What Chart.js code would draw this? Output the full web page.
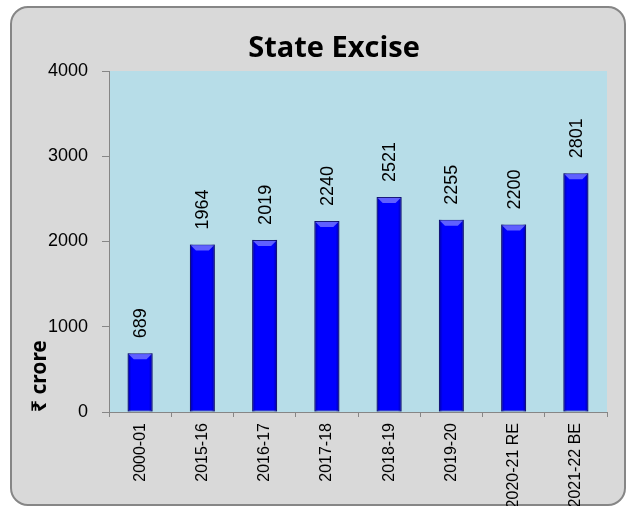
<!DOCTYPE html>
<html>
<head>
<meta charset="utf-8">
<script src="https://cdn.jsdelivr.net/npm/chart.js@4"></script>
<style>
    html, body { margin: 0; padding: 0; background: #ffffff; }
    #wrap { position: relative; width: 630px; height: 506px; }
    #card {
        position: absolute; left: 10px; top: 6px; width: 616px; height: 500px;
        background: #d9d9d9; border: 2px solid #868686; border-radius: 18px; box-sizing: border-box;
    }
    #myChart { position: absolute; left: 0; top: 0; }
</style>
</head>
<body>
<div id="wrap">
    <div id="card"></div>
    <canvas id="myChart" width="630" height="506"></canvas>
</div>
<script>
const years = ['2000-01', '2015-16', '2016-17', '2017-18', '2018-19', '2019-20', '2020-21 RE', '2021-22 BE']
const exciseValues = [689, 1964, 2019, 2240, 2521, 2255, 2200, 2801]
const yTicks = [0, 1000, 2000, 3000, 4000]

const axisColor = '#868686'

// light blue plot background
const plotBg = {
    id: 'plotBg',
    beforeDraw(chart) {
        const { ctx, chartArea: a } = chart
        ctx.save()
        ctx.fillStyle = '#b7dde8'
        ctx.fillRect(a.left, a.top, a.right - a.left, a.bottom - a.top)
        ctx.restore()
    }
}

// bevel look on bars, rotated value labels, title and unit text
const barExtras = {
    id: 'barExtras',
    afterDatasetsDraw(chart) {
        const ctx = chart.ctx
        const meta = chart.getDatasetMeta(0)
        meta.data.forEach((bar, i) => {
            const w = bar.width
            const left = bar.x - w / 2
            const right = bar.x + w / 2
            const top = bar.y
            const bottom = bar.base
            ctx.save()
            const g = ctx.createLinearGradient(left, 0, right, 0)
            g.addColorStop(0, 'rgba(0,0,90,0.55)')
            g.addColorStop(0.15, 'rgba(0,0,90,0)')
            g.addColorStop(0.85, 'rgba(0,0,90,0)')
            g.addColorStop(1, 'rgba(0,0,90,0.55)')
            ctx.fillStyle = g
            ctx.fillRect(left, top, w, bottom - top)
            // top bevel
            ctx.fillStyle = 'rgba(120,120,255,0.8)'
            ctx.beginPath()
            ctx.moveTo(left + 1, top + 1)
            ctx.lineTo(right - 1, top + 1)
            ctx.lineTo(right - 6, top + 6)
            ctx.lineTo(left + 6, top + 6)
            ctx.closePath()
            ctx.fill()
            ctx.restore()

            ctx.save()
            ctx.translate(bar.x + 1, top - 15)
            ctx.rotate(-Math.PI / 2)
            ctx.font = '18px "Liberation Sans", Arial, sans-serif'
            ctx.fillStyle = '#000000'
            ctx.textAlign = 'left'
            ctx.textBaseline = 'middle'
            ctx.fillText(String(exciseValues[i]), 0, 0)
            ctx.restore()
        })

        ctx.save()
        ctx.font = 'bold 29px "Open Sans", sans-serif'
        ctx.fillStyle = '#000000'
        ctx.textAlign = 'center'
        ctx.textBaseline = 'alphabetic'
        ctx.fillText('State Excise', 334, 57)
        ctx.restore()

        ctx.save()
        ctx.translate(40, 412)
        ctx.rotate(-Math.PI / 2)
        ctx.font = 'bold 21px "Noto Sans", "DejaVu Sans", sans-serif'
        ctx.fillStyle = '#000000'
        ctx.textAlign = 'left'
        ctx.textBaseline = 'middle'
        ctx.fillText('₹ crore', 0, 0)
        ctx.restore()
    }
}

const ctx = document.getElementById('myChart')

const myChart = new Chart(ctx, {
    type: 'bar',
    data: {
        labels: years,
        datasets: [{
            label: 'State Excise',
            data: exciseValues,
            backgroundColor: '#0000ff',
            borderColor: '#1a1a80',
            borderWidth: 1,
            borderSkipped: false,
            barPercentage: 0.4,
            categoryPercentage: 1.0
        }]
    },
    options: {
        responsive: false,
        animation: false,
        layout: {
            padding: { left: 20, right: 23, top: 71, bottom: 0 }
        },
        plugins: {
            legend: { display: false },
            tooltip: { enabled: false },
            title: { display: false }
        },
        scales: {
            x: {
                grid: {
                    offset: true,
                    drawOnChartArea: false,
                    color: axisColor,
                    tickLength: 5
                },
                border: { color: axisColor, width: 1 },
                ticks: {
                    color: '#000000',
                    font: { family: '"Liberation Sans", Arial, sans-serif', size: 16 },
                    minRotation: 90,
                    maxRotation: 90,
                    padding: 6,
                    autoSkip: false
                },
                afterFit(scale) { scale.height = 94 }
            },
            y: {
                min: 0,
                max: 4000,
                afterBuildTicks(scale) { scale.ticks = yTicks.map(v => ({ value: v })) },
                grid: {
                    drawOnChartArea: false,
                    color: axisColor,
                    tickLength: 7
                },
                border: { color: axisColor, width: 1 },
                ticks: {
                    color: '#000000',
                    font: { family: '"Liberation Sans", Arial, sans-serif', size: 18 },
                    padding: 14,
                    callback: value => String(value)
                },
                afterFit(scale) { scale.width = 89 }
            }
        }
    },
    plugins: [plotBg, barExtras]
})
</script>
</body>
</html>
